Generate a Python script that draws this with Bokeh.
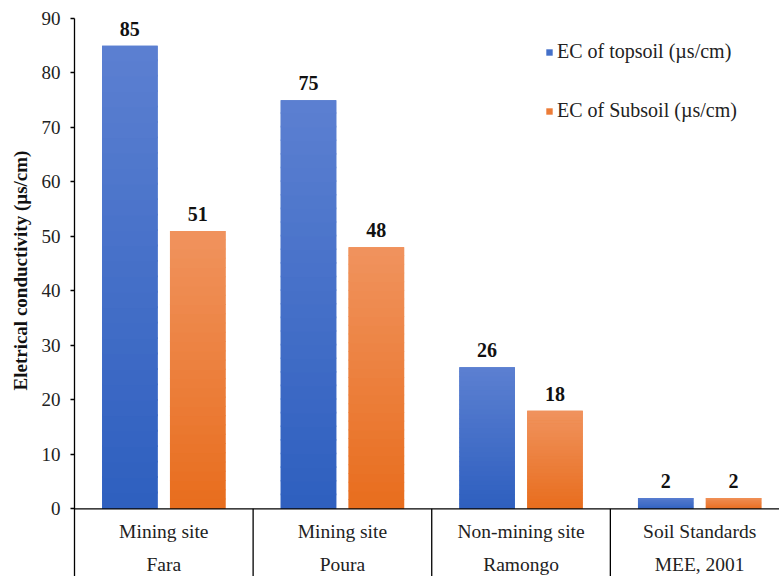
from bokeh.plotting import figure
from bokeh.models import Range1d, FixedTicker, Span, ColumnDataSource, Legend, LegendItem, Title
from bokeh.core.properties import value
from bokeh.embed import file_html
from bokeh.resources import INLINE

# ---- data ----
categories_line1 = ["Mining site", "Mining site", "Non-mining site", "Soil Standards"]
categories_line2 = ["Fara", "Poura", "Ramongo", "MEE, 2001"]
topsoil = [85, 75, 26, 2]
subsoil = [51, 48, 18, 2]
y_ticks = [0, 10, 20, 30, 40, 50, 60, 70, 80, 90]
y_title = "Eletrical conductivity (\u00b5s/cm)"

FONT = "Liberation Serif"
BLUE = "#4470c9"
ORANGE = "#ec7c37"
BLUE_GRAD = ((0x2e, 0x5f, 0xbf), (0x5c, 0x80, 0xd1))     # bottom -> top
ORANGE_GRAD = ((0xe8, 0x6d, 0x1d), (0xf0, 0x93, 0x5e))

n = len(categories_line1)
centers = [i + 0.5 for i in range(n)]
off = 0.19
bw = 0.311
YMIN = -12.42
XMAX = 3.947

p = figure(width=779, height=576, output_backend="svg", toolbar_location=None,
           x_range=Range1d(0, XMAX), y_range=Range1d(YMIN, 90),
           min_border_left=74, min_border_right=0, min_border_top=18, min_border_bottom=0,
           frame_width=705, frame_height=558)
p.outline_line_color = None
p.grid.visible = False
p.xaxis.visible = False
p.background_fill_color = "white"
p.border_fill_color = "white"

ya = p.yaxis[0]
ya.ticker = FixedTicker(ticks=y_ticks)
ya.major_tick_out = 4
ya.major_tick_in = 0
ya.minor_tick_out = 0
ya.minor_tick_in = 0
ya.axis_line_color = "black"
ya.axis_line_width = 1.3
ya.major_tick_line_width = 1.3
ya.major_label_text_font = FONT
ya.major_label_text_font_size = "19px"
ya.major_label_text_color = "#222222"
ya.major_label_standoff = 10

# y-axis title as a left-side title so it can be centred on the 0-90 range
p.add_layout(Title(text=y_title, align="left", offset=186, standoff=12, vertical_align="top",
                   text_font=FONT, text_font_style="bold", text_font_size="19px",
                   text_color="#111111"), "left")

xb = [c - off for c in centers]
xo = [c + off for c in centers]
src = ColumnDataSource(dict(
    xb=xb, xo=xo, top=topsoil, sub=subsoil,
    tl=[str(v) for v in topsoil], sl=[str(v) for v in subsoil],
))

r1 = p.vbar(x="xb", top="top", bottom=0, width=bw, source=src, fill_color=BLUE, line_color=None)
r2 = p.vbar(x="xo", top="sub", bottom=0, width=bw, source=src, fill_color=ORANGE, line_color=None)


def gradient(xs, vals, grad, steps=30):
    (r0, g0, b0), (r1_, g1, b1) = grad
    gx, gb, gt, gc = [], [], [], []
    for x, v in zip(xs, vals):
        for k in range(steps):
            t = (k + 0.5) / steps
            c = "#%02x%02x%02x" % (round(r0 + (r1_ - r0) * t), round(g0 + (g1 - g0) * t),
                                   round(b0 + (b1 - b0) * t))
            gx.append(x)
            gb.append(v * k / steps)
            gt.append(min(v, v * (k + 1) / steps + v * 0.004))
            gc.append(c)
    p.vbar(x=gx, bottom=gb, top=gt, width=bw, fill_color=gc, line_color=None)


gradient(xb, topsoil, BLUE_GRAD)
gradient(xo, subsoil, ORANGE_GRAD)

p.text(x="xb", y="top", text="tl", source=src, text_align="center", text_baseline="middle",
       y_offset=-17, text_font=value(FONT), text_font_style="bold", text_font_size="20px",
       text_color="#111111")
p.text(x="xo", y="sub", text="sl", source=src, text_align="center", text_baseline="middle",
       y_offset=-17, text_font=value(FONT), text_font_style="bold", text_font_size="20px",
       text_color="#111111")

# x baseline and category dividers
p.add_layout(Span(location=0, dimension="width", line_color="black", line_width=1.3))
dividers = list(range(1, n))
p.segment(x0=dividers, y0=[0] * len(dividers), x1=dividers, y1=[YMIN] * len(dividers),
          line_color="black", line_width=1.3)

# category labels
p.text(x=centers, y=[0] * n, text=categories_line1, text_align="center", text_baseline="middle",
       y_offset=23, text_font=value(FONT), text_font_size="19.5px", text_color="#222222")
p.text(x=centers, y=[0] * n, text=categories_line2, text_align="center", text_baseline="middle",
       y_offset=56, text_font=value(FONT), text_font_size="19.5px", text_color="#222222")

legend = Legend(items=[LegendItem(label="EC of topsoil (\u00b5s/cm)", renderers=[r1]),
                       LegendItem(label="EC of Subsoil (\u00b5s/cm)", renderers=[r2])],
                location=(461, 444), orientation="vertical",
                glyph_width=8, glyph_height=8, label_standoff=4, spacing=36,
                label_height=23,
                label_text_font=FONT, label_text_font_size="20px", label_text_color="#222222",
                border_line_alpha=0, background_fill_alpha=0, padding=10, margin=0)
p.add_layout(legend)

open("out.html", "w").write(file_html(p, INLINE))
